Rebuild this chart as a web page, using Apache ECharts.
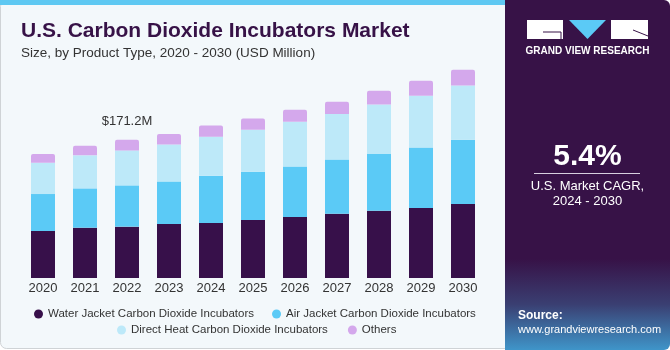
<!DOCTYPE html>
<html>
<head>
<meta charset="utf-8">
<script src="https://cdn.jsdelivr.net/npm/echarts@6/dist/echarts.min.js"></script>
<style>
  html, body { margin: 0; padding: 0; background: #fff; }
  #chart { width: 670px; height: 350px; }
</style>
</head>
<body>
<div id="chart"></div>
<script>
const years = ['2020', '2021', '2022', '2023', '2024', '2025', '2026', '2027', '2028', '2029', '2030']
const seriesNames = [
    'Water Jacket Carbon Dioxide Incubators',
    'Air Jacket Carbon Dioxide Incubators',
    'Direct Heat Carbon Dioxide Incubators',
    'Others',
]
const waterJacket = [58.2, 62.3, 63.6, 66.9, 68.1, 71.8, 75.5, 79.6, 83.3, 86.7, 91.6]
const airJacket = [45.8, 48.7, 51.1, 52.7, 58.6, 59.8, 62.6, 67.2, 70.2, 75.0, 79.6]
const directHeat = [38.7, 40.9, 43.3, 45.8, 48.3, 52.0, 55.3, 56.2, 61.4, 64.0, 67.2]
const others = [10.8, 12.0, 13.2, 12.9, 14.0, 14.0, 14.9, 15.2, 17.0, 18.6, 19.4]
const labelledIndex = 2
const colors = ['#37104a', '#5bcaf6', '#bde9f9', '#d4a8ec']

const fontFamily = '"Liberation Sans", Arial, sans-serif'

function totalAt(i) {
    return waterJacket[i] + airJacket[i] + directHeat[i] + others[i]
}

function initChart() {
    var myChart = echarts.init(document.getElementById('chart'))
    var allData = [waterJacket, airJacket, directHeat, others]

    var series = allData.map(function (arr, s) {
        return {
            name: seriesNames[s],
            type: 'bar',
            stack: 'total',
            barWidth: 24,
            animation: false,
            itemStyle: {
                color: colors[s],
                borderRadius: s == 3 ? [2, 2, 0, 0] : 0,
            },
            data: arr.map(function (v, i) {
                if (s == 3 && i == labelledIndex) {
                    return {
                        value: v,
                        label: {
                            show: true,
                            position: 'top',
                            distance: 12,
                            formatter: '$' + totalAt(i).toFixed(1) + 'M',
                            color: '#333',
                            fontSize: 13,
                            fontFamily: fontFamily,
                        },
                    }
                }
                return v
            }),
        }
    })

    var legendText = { color: '#333', fontSize: 11.5, fontFamily: fontFamily }

    var option = {
        backgroundColor: '#ffffff',
        title: {
            text: 'U.S. Carbon Dioxide Incubators Market',
            subtext: 'Size, by Product Type, 2020 - 2030 (USD Million)',
            left: 16,
            top: 16,
            itemGap: 4,
            textStyle: {
                color: '#371247',
                fontSize: 21,
                fontWeight: 'bold',
                fontFamily: fontFamily,
            },
            subtextStyle: {
                color: '#333',
                fontSize: 13.5,
                fontFamily: fontFamily,
            },
        },
        legend: [
            {
                data: seriesNames.slice(0, 2),
                left: 29,
                top: 303,
                icon: 'circle',
                itemWidth: 9,
                itemHeight: 9,
                itemGap: 18,
                textStyle: legendText,
            },
            {
                data: seriesNames.slice(2),
                left: 112,
                top: 319,
                icon: 'circle',
                itemWidth: 9,
                itemHeight: 9,
                itemGap: 20,
                textStyle: legendText,
            },
        ],
        grid: {
            left: 22,
            width: 462,
            top: 60,
            bottom: 72,
            containLabel: false,
        },
        xAxis: {
            type: 'category',
            data: years,
            axisLine: { show: false },
            axisTick: { show: false },
            axisLabel: {
                color: '#333',
                fontSize: 13,
                margin: 4,
                fontFamily: fontFamily,
            },
        },
        yAxis: {
            type: 'value',
            min: 0,
            max: 270,
            show: false,
            splitLine: { show: false },
        },
        graphic: [
            // left panel frame
            {
                type: 'rect',
                z: -10,
                shape: { x: 0.5, y: 0.5, width: 520, height: 348, r: 6 },
                style: { fill: '#f3f8fb', stroke: '#cfd3d6', lineWidth: 1 },
            },
            {
                type: 'rect',
                z: -9,
                shape: { x: 0, y: 0, width: 510, height: 5 },
                style: { fill: '#5ec8f2' },
            },
            // right panel
            {
                type: 'rect',
                z: -5,
                shape: { x: 505, y: 0, width: 165, height: 350, r: [0, 6, 6, 0] },
                style: {
                    fill: new echarts.graphic.LinearGradient(0, 0, 0, 1, [
                        { offset: 0, color: '#371247' },
                        { offset: 0.74, color: '#371247' },
                        { offset: 0.87, color: '#3a3f72' },
                        { offset: 1, color: '#3f95c9' },
                    ]),
                },
            },
            // logo
            {
                type: 'rect',
                shape: { x: 527, y: 20, width: 36, height: 19 },
                style: { fill: '#ffffff' },
            },
            {
                type: 'polyline',
                shape: { points: [[543, 32], [561, 32], [561, 39]] },
                style: { stroke: '#371247', lineWidth: 1, fill: null },
            },
            {
                type: 'polygon',
                shape: { points: [[569, 20], [606, 20], [587.5, 39]] },
                style: { fill: '#5bcaf6' },
            },
            {
                type: 'rect',
                shape: { x: 611, y: 20, width: 37, height: 19 },
                style: { fill: '#ffffff' },
            },
            {
                type: 'line',
                shape: { x1: 633, y1: 30, x2: 648, y2: 36 },
                style: { stroke: '#371247', lineWidth: 1 },
            },
            {
                type: 'text',
                x: 587.5,
                y: 51,
                style: {
                    text: 'GRAND VIEW RESEARCH',
                    fill: '#ffffff',
                    font: 'bold 10px ' + fontFamily,
                    textAlign: 'center',
                    textVerticalAlign: 'middle',
                },
            },
            // CAGR
            {
                type: 'text',
                x: 587.5,
                y: 157,
                style: {
                    text: '5.4%',
                    fill: '#ffffff',
                    font: 'bold 30px ' + fontFamily,
                    textAlign: 'center',
                    textVerticalAlign: 'middle',
                },
            },
            {
                type: 'line',
                shape: { x1: 534, y1: 173.5, x2: 640, y2: 173.5 },
                style: { stroke: '#d8d0e0', lineWidth: 1 },
            },
            {
                type: 'text',
                x: 587.5,
                y: 186,
                style: {
                    text: 'U.S. Market CAGR,',
                    fill: '#ffffff',
                    font: '13px ' + fontFamily,
                    textAlign: 'center',
                    textVerticalAlign: 'middle',
                },
            },
            {
                type: 'text',
                x: 587.5,
                y: 201,
                style: {
                    text: '2024 - 2030',
                    fill: '#ffffff',
                    font: '13px ' + fontFamily,
                    textAlign: 'center',
                    textVerticalAlign: 'middle',
                },
            },
            // source
            {
                type: 'text',
                x: 518,
                y: 316,
                style: {
                    text: 'Source:',
                    fill: '#ffffff',
                    font: 'bold 12px ' + fontFamily,
                    textAlign: 'left',
                    textVerticalAlign: 'middle',
                },
            },
            {
                type: 'text',
                x: 518,
                y: 330,
                style: {
                    text: 'www.grandviewresearch.com',
                    fill: '#ffffff',
                    font: '11px ' + fontFamily,
                    textAlign: 'left',
                    textVerticalAlign: 'middle',
                },
            },
        ],
        series: series,
    }

    option && myChart.setOption(option)
}

initChart()
</script>
</body>
</html>
